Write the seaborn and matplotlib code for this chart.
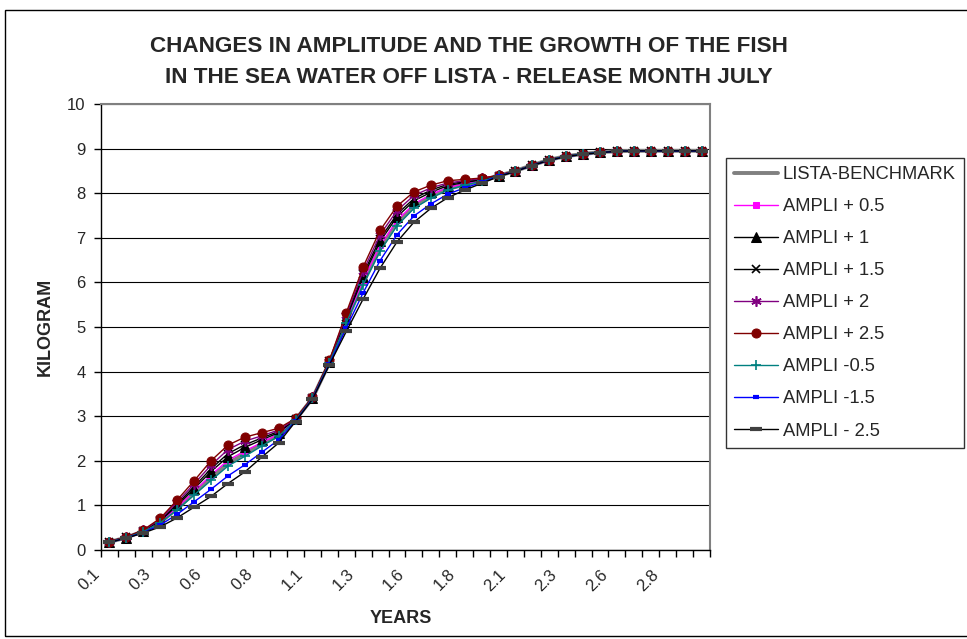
import matplotlib
matplotlib.use('Agg')
import matplotlib.pyplot as plt
import matplotlib.transforms as mtransforms
import seaborn as sns
import numpy as np
from matplotlib.patches import Rectangle

sns.set_theme(style='white')
plt.rcParams['font.family'] = ['Liberation Sans', 'DejaVu Sans']

# ---- data ----
months = list(range(36))  # category index (0.1 years + one month per step)
tick_pos = [0, 3, 6, 9, 12, 15, 18, 21, 24, 27, 30, 33]
tick_labels = ["0.1", "0.3", "0.6", "0.8", "1.1", "1.3", "1.6", "1.8",
               "2.1", "2.3", "2.6", "2.8"]

bench = [0.18, 0.28, 0.42, 0.62, 0.93, 1.27, 1.62, 1.94, 2.16, 2.37, 2.57, 2.92,
         3.40, 4.20, 5.12, 6.00, 6.76, 7.33, 7.70, 7.93, 8.10, 8.19, 8.28, 8.39,
         8.50, 8.63, 8.75, 8.83, 8.88, 8.92, 8.94, 8.95, 8.95, 8.95, 8.95, 8.95]
amp_p05 = [0.18, 0.28, 0.42, 0.63, 0.96, 1.31, 1.68, 2.01, 2.22, 2.41, 2.60, 2.92,
           3.40, 4.21, 5.15, 6.06, 6.83, 7.39, 7.76, 7.97, 8.13, 8.21, 8.29, 8.39,
           8.50, 8.63, 8.75, 8.83, 8.88, 8.92, 8.94, 8.95, 8.95, 8.95, 8.95, 8.95]
amp_p1 = [0.18, 0.28, 0.43, 0.65, 1.00, 1.37, 1.76, 2.09, 2.30, 2.47, 2.63, 2.93,
          3.41, 4.22, 5.19, 6.13, 6.92, 7.47, 7.83, 8.02, 8.17, 8.24, 8.30, 8.39,
          8.50, 8.63, 8.75, 8.83, 8.88, 8.92, 8.94, 8.95, 8.95, 8.95, 8.95, 8.95]
amp_p15 = [0.19, 0.29, 0.43, 0.67, 1.03, 1.42, 1.82, 2.16, 2.36, 2.51, 2.66, 2.93,
           3.41, 4.23, 5.23, 6.19, 6.98, 7.53, 7.88, 8.07, 8.20, 8.26, 8.31, 8.39,
           8.50, 8.63, 8.75, 8.83, 8.88, 8.92, 8.94, 8.95, 8.95, 8.95, 8.95, 8.95]
amp_p2 = [0.19, 0.29, 0.44, 0.69, 1.07, 1.48, 1.90, 2.25, 2.44, 2.56, 2.69, 2.94,
          3.42, 4.24, 5.27, 6.26, 7.07, 7.61, 7.95, 8.12, 8.23, 8.28, 8.33, 8.40,
          8.50, 8.63, 8.75, 8.83, 8.88, 8.92, 8.94, 8.95, 8.95, 8.95, 8.95, 8.95]
amp_p25 = [0.19, 0.29, 0.45, 0.71, 1.12, 1.55, 2.00, 2.35, 2.53, 2.63, 2.73, 2.95,
           3.42, 4.25, 5.32, 6.35, 7.17, 7.71, 8.03, 8.18, 8.28, 8.31, 8.34, 8.40,
           8.50, 8.63, 8.75, 8.83, 8.88, 8.92, 8.94, 8.95, 8.95, 8.95, 8.95, 8.95]
amp_m05 = [0.18, 0.28, 0.41, 0.61, 0.90, 1.23, 1.56, 1.88, 2.10, 2.33, 2.55, 2.91,
           3.40, 4.20, 5.09, 5.95, 6.70, 7.27, 7.66, 7.89, 8.07, 8.18, 8.27, 8.38,
           8.50, 8.63, 8.75, 8.83, 8.88, 8.92, 8.94, 8.95, 8.95, 8.95, 8.95, 8.95]
amp_m15 = [0.17, 0.27, 0.39, 0.56, 0.80, 1.08, 1.36, 1.66, 1.91, 2.19, 2.47, 2.89,
           3.39, 4.17, 4.98, 5.77, 6.49, 7.07, 7.49, 7.76, 7.98, 8.12, 8.24, 8.38,
           8.49, 8.62, 8.74, 8.82, 8.87, 8.91, 8.94, 8.95, 8.95, 8.95, 8.95, 8.95]
amp_m25 = [0.17, 0.27, 0.38, 0.52, 0.72, 0.96, 1.20, 1.49, 1.75, 2.08, 2.40, 2.88,
           3.38, 4.15, 4.90, 5.63, 6.32, 6.91, 7.35, 7.66, 7.90, 8.07, 8.22, 8.37,
           8.49, 8.62, 8.74, 8.82, 8.87, 8.91, 8.94, 8.95, 8.95, 8.95, 8.95, 8.95]

series = [
    ("LISTA-BENCHMARK", bench, dict(color='#808080', linewidth=2.8)),
    ("AMPLI + 0.5", amp_p05, dict(color='#FF00FF', linewidth=1.0, marker='s', markersize=5,
                                   markeredgecolor='#FF00FF', markerfacecolor='#FF00FF')),
    ("AMPLI + 1", amp_p1, dict(color='black', linewidth=1.0, marker='^', markersize=6.5,
                                markeredgecolor='black', markerfacecolor='black')),
    ("AMPLI + 1.5", amp_p15, dict(color='black', linewidth=1.0, marker='x', markersize=6,
                                   markeredgecolor='black', markeredgewidth=1.2)),
    ("AMPLI + 2", amp_p2, dict(color='#800080', linewidth=1.0, marker=(6, 2, 0), markersize=7.5,
                                markeredgecolor='#800080', markeredgewidth=1.2)),
    ("AMPLI + 2.5", amp_p25, dict(color='#800000', linewidth=1.0, marker='o', markersize=6.5,
                                   markeredgecolor='#800000', markerfacecolor='#800000')),
    ("AMPLI -0.5", amp_m05, dict(color='#008080', linewidth=1.0, marker='+', markersize=7,
                                  markeredgecolor='#008080', markeredgewidth=1.2)),
    ("AMPLI -1.5", amp_m15, dict(color='#0000FF', linewidth=1.0, marker='_', markersize=4,
                                  markeredgecolor='#0000FF', markeredgewidth=3)),
    ("AMPLI - 2.5", amp_m25, dict(color='black', linewidth=1.0, marker='_', markersize=8,
                                   markeredgecolor='#404040', markeredgewidth=3)),
]

W, H = 967, 639
fig = plt.figure(figsize=(W / 100, H / 100), dpi=100)
fig.patch.set_facecolor('white')

# chart area border
fig.patches.append(Rectangle((5 / W, 1 - 636 / H), 1.2, (636 - 10) / H,
                             transform=fig.transFigure, fill=False,
                             edgecolor='black', linewidth=1.0))

ax = fig.add_axes([101 / W, 1 - 550 / H, 609 / W, 446 / H])
ax.set_facecolor('white')

for name, vals, st in series:
    sns.lineplot(x=months, y=vals, ax=ax, label=name, **st)

ax.set_xlim(-0.5, 35.5)
ax.set_ylim(0, 10)
ax.set_yticks(range(0, 11))
ax.yaxis.grid(True, color='black', linewidth=0.8)
ax.xaxis.grid(False)
ax.set_axisbelow(True)

ax.set_xticks(tick_pos)
ax.set_xticks(np.arange(-0.5, 36, 1), minor=True)
ax.tick_params(axis='x', which='major', length=0, pad=12, bottom=True)
ax.tick_params(axis='x', which='minor', length=5, width=1, color='black',
               direction='out', bottom=True)
ax.tick_params(axis='y', length=5, width=1, color='black', direction='out',
               left=True, labelsize=12, pad=6)
ax.set_xticklabels(tick_labels, rotation=45, ha='right', rotation_mode='anchor', fontsize=12)
shift = mtransforms.ScaledTranslation(-0.17, 0, fig.dpi_scale_trans)
for lab in ax.get_xticklabels():
    lab.set_transform(lab.get_transform() + shift)

for side in ['left', 'bottom']:
    ax.spines[side].set_color('black')
    ax.spines[side].set_linewidth(1.0)
for side in ['top', 'right']:
    ax.spines[side].set_color('#808080')
    ax.spines[side].set_linewidth(1.5)

ax.set_xlabel('YEARS', fontsize=13, fontweight='bold')
ax.set_ylabel('KILOGRAM', fontsize=13, fontweight='bold')
ax.xaxis.set_label_coords(0.4926, -0.135)
ax.xaxis.label.set_va('top')
ax.yaxis.set_label_coords(-0.092, 0.5)
ax.yaxis.label.set_va('center')

fig.text(469 / W, 1 - 46 / H, "CHANGES IN AMPLITUDE AND THE GROWTH OF THE FISH",
         ha='center', va='center', fontsize=16.2, fontweight='bold')
fig.text(469 / W, 1 - 77.5 / H, "IN THE SEA WATER OFF LISTA - RELEASE MONTH JULY",
         ha='center', va='center', fontsize=16.2, fontweight='bold')

leg = ax.legend(loc='upper left', bbox_to_anchor=(726 / W, 1 - 158 / H),
                bbox_transform=fig.transFigure, frameon=True, fancybox=False,
                fontsize=13.2, handlelength=2.4, handletextpad=0.25,
                labelspacing=0.82, borderpad=0.45, borderaxespad=0)
leg.get_frame().set_edgecolor('black')
leg.get_frame().set_linewidth(1.0)

fig.savefig('out.png', dpi=100)
